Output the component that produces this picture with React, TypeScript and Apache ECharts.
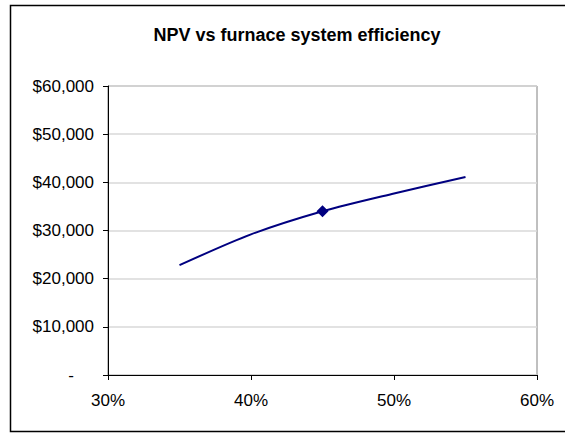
import React, { useEffect, useRef } from "react";
import * as echarts from "echarts";

const efficiency = [35, 40, 45, 50, 55];
const npv = [22800, 29200, 34000, 37700, 41100];
const markedIndex = 2;
const title = "NPV vs furnace system efficiency";

const FONT = "'Liberation Sans', Arial, Helvetica, sans-serif";

export default function App() {
  const ref = useRef<HTMLDivElement>(null);
  useEffect(() => {
    if (!ref.current) return;
    const chart = echarts.init(ref.current, undefined, { renderer: "svg" });
    const data = efficiency.map((x, i) =>
      i === markedIndex
        ? { value: [x, npv[i]], symbol: "diamond", symbolSize: 12 }
        : { value: [x, npv[i]], symbol: "none" }
    );
    chart.setOption({
      animation: false,
      backgroundColor: "#ffffff",
      textStyle: { fontFamily: FONT },
      title: {
        text: title,
        left: 292,
        top: 21,
        textAlign: "center",
        textStyle: { fontFamily: FONT, fontSize: 18, fontWeight: "bold", color: "#000" },
      },
      graphic: [
        {
          type: "rect",
          shape: { x: 10.5, y: 5.5, width: 600, height: 426 },
          style: { fill: "none", stroke: "#000", lineWidth: 1.5 },
          silent: true,
        },
      ],
      grid: {
        left: 108,
        right: 28,
        top: 86,
        bottom: 58,
        show: true,
        borderColor: "#808080",
        borderWidth: 1,
        backgroundColor: "#ffffff",
      },
      xAxis: {
        type: "value",
        min: 30,
        max: 60,
        interval: 10,
        axisLine: { show: true, lineStyle: { color: "#000", width: 1 } },
        axisTick: { show: true, length: 5, inside: false, lineStyle: { color: "#000" } },
        splitLine: { show: false },
        axisLabel: {
          formatter: (v: number) => `${v}%`,
          fontFamily: FONT,
          fontSize: 17,
          color: "#000",
          margin: 17,
        },
      },
      yAxis: {
        type: "value",
        min: 0,
        max: 60000,
        interval: 10000,
        axisLine: { show: true, lineStyle: { color: "#000", width: 1 } },
        axisTick: { show: true, length: 5, inside: false, lineStyle: { color: "#000" } },
        splitLine: { show: true, lineStyle: { color: "#d9d9d9", width: 1.5 } },
        axisLabel: {
          formatter: (v: number) =>
            v === 0 ? "{dash|-}" : "$" + v.toLocaleString("en-US"),
          fontFamily: FONT,
          fontSize: 17,
          color: "#000",
          margin: 14,
          rich: {
            dash: { fontFamily: FONT, fontSize: 17, color: "#000", padding: [0, 20, 0, 0] },
          },
        },
      },
      series: [
        {
          type: "line",
          data,
          smooth: 0.3,
          lineStyle: { color: "#000080", width: 2 },
          itemStyle: { color: "#000080" },
        },
      ],
    });
    return () => chart.dispose();
  }, []);
  return (
    <div
      ref={ref}
      style={{ position: "fixed", left: 0, top: 0, width: 565, height: 433 }}
    />
  );
}
